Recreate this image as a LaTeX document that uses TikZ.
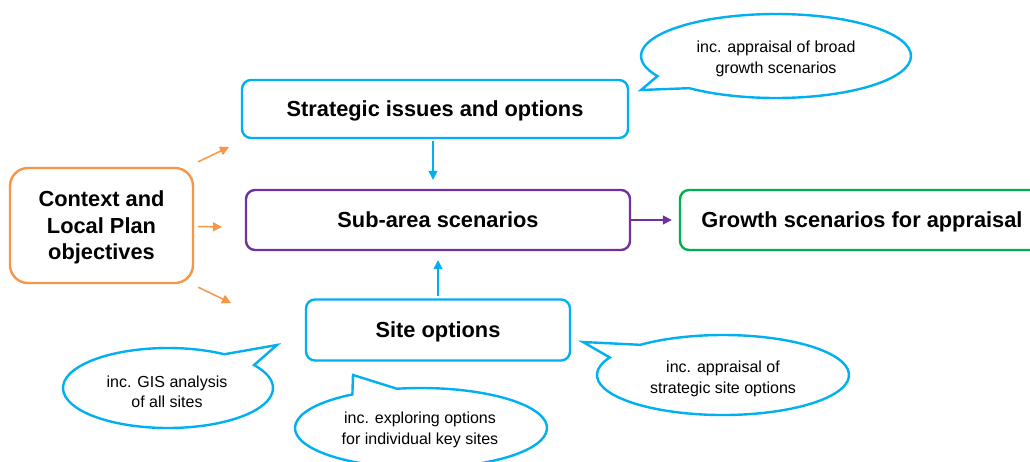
\documentclass[tikz,border=0pt]{standalone}
\usepackage{fontspec}
\setmainfont{Liberation Sans}
\usetikzlibrary{arrows.meta,calc}
\definecolor{ccyan}{HTML}{00B0F0}
\definecolor{cpurple}{HTML}{7030A0}
\definecolor{cgreen}{HTML}{00B050}
\definecolor{corange}{HTML}{F79646}
\tikzset{
  box/.style={draw, line width=2.4pt, rounded corners=9pt, fill=white, align=center,
    font=\fontsize{21.8}{26}\selectfont\bfseries, inner sep=0pt, text depth=0pt},
  conn/.style={line width=1.5pt, -{Triangle[length=9pt,width=9pt]}},
  bubble/.style={draw=ccyan, line width=2.4pt, fill=white, line join=miter},
  btext/.style={align=center, font=\fontsize{16}{20.5}\selectfont, inner sep=0pt},
}
\newcommand\mycallout[6]{% center, rx, ry, tip, start angle, end angle
  \draw[bubble] #4 -- ($#1+(#5:#2 and #3)$) arc[start angle=#5, end angle=#6, x radius=#2, y radius=#3] -- cycle;
}
\begin{document}
\begin{tikzpicture}[x=1pt,y=-1pt]
\useasboundingbox (0,0) rectangle (1030,461);
\clip (0,0) rectangle (1030,461);
\fill[white] (0,0) rectangle (1030,461);

% main boxes
\node[box, draw=ccyan, minimum width=386pt, minimum height=58pt] (strat) at (435,109) {Strategic issues and options};
\node[box, draw=cpurple, minimum width=384pt, minimum height=60pt] (sub) at (438,220) {Sub-area scenarios};
\node[box, draw=cgreen, minimum width=364pt, minimum height=60pt] (growth) at (862,220) {Growth scenarios for appraisal};
\node[box, draw=ccyan, minimum width=264pt, minimum height=61pt] (site) at (438,330) {Site options};
\node[box, draw=corange, rounded corners=18pt, minimum width=183pt, minimum height=115pt,
  font=\fontsize{21.8}{26.5}\selectfont\bfseries] (ctx) at (101.5,225.5) {Context and\\Local Plan\\objectives};

% connectors
\draw[conn, draw=ccyan, fill=ccyan, shorten >=9pt, shorten <=2pt] ([xshift=-2pt]strat.south) -- ([xshift=-5pt]sub.north);
\draw[conn, draw=ccyan, fill=ccyan, shorten >=9pt, shorten <=2pt] (site.north) -- (sub.south);
\draw[conn, draw=cpurple, fill=cpurple, shorten >=7pt] (sub.east) -- (growth.west);

\coordinate (o1s) at ($(ctx.north east)+(4,-5)$);
\coordinate (o1e) at (229,147);
\coordinate (o2s) at ($(ctx.east)+(4,1)$);
\coordinate (o2e) at (222,227);
\coordinate (o3s) at ($(ctx.south east)+(4,3)$);
\coordinate (o3e) at (231,303);
\draw[conn, draw=corange, fill=corange] (o1s) -- (o1e);
\draw[conn, draw=corange, fill=corange] (o2s) -- (o2e);
\draw[conn, draw=corange, fill=corange] (o3s) -- (o3e);

% callouts
\coordinate (c1) at (776,56);
\coordinate (t1) at (641,90);
\mycallout{(c1)}{135pt}{42pt}{(t1)}{230}{568.6}
\node[btext] (b1) at (776,59) {inc. appraisal of broad\\growth scenarios};

\coordinate (c2) at (168,388);
\coordinate (t2) at (277,345);
\mycallout{(c2)}{105pt}{40pt}{(t2)}{57.6}{395}
\node[btext] (b2) at (167,392) {inc. GIS analysis\\of all sites};

\coordinate (c3) at (421,428);
\coordinate (t3) at (353,375);
\mycallout{(c3)}{126pt}{40pt}{(t3)}{123}{461}
\node[btext] (b3) at (420,430) {inc. exploring options\\for individual key sites};

\coordinate (c4) at (723,375);
\coordinate (t4) at (583,342);
\mycallout{(c4)}{126pt}{40pt}{(t4)}{154}{491}
\node[btext] (b4) at (723,379) {inc. appraisal of\\strategic site options};
\end{tikzpicture}
\end{document}
